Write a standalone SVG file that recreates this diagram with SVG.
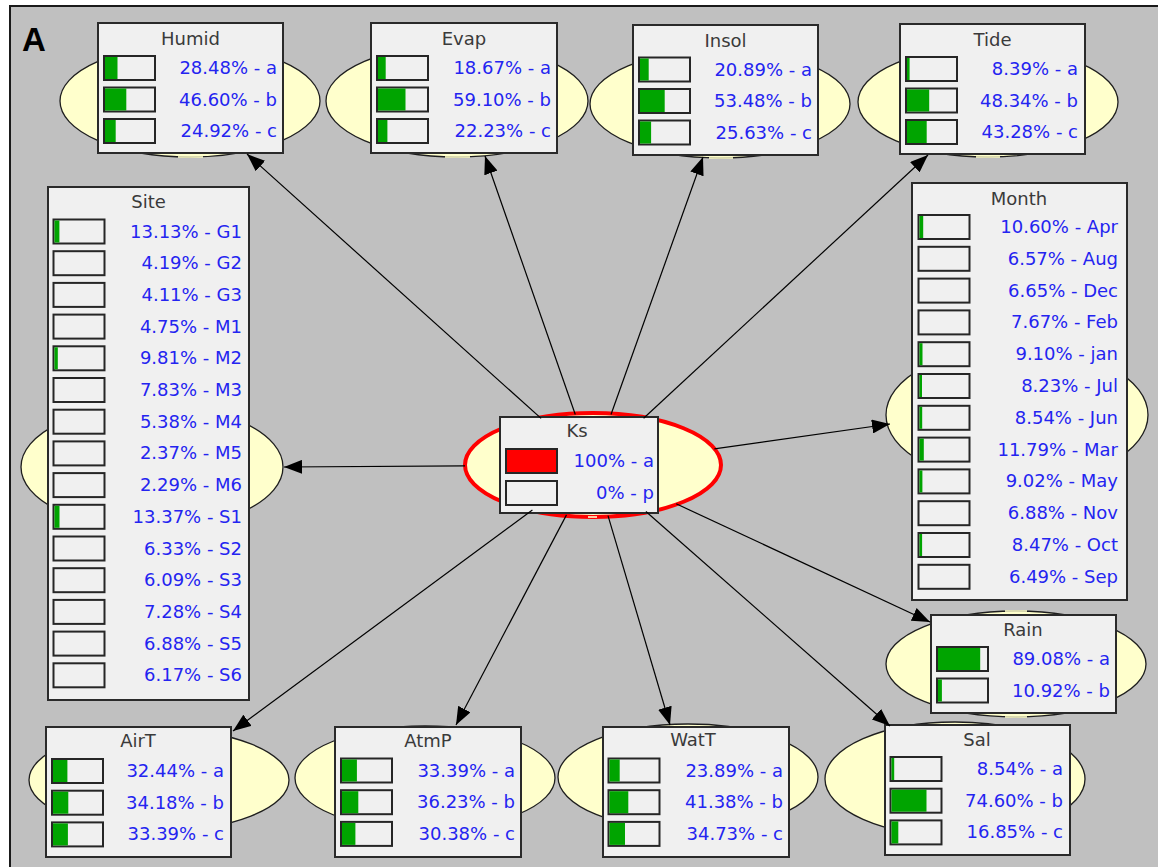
<svg xmlns="http://www.w3.org/2000/svg" width="1158" height="867" viewBox="0 0 1158 867">
<style>
.ell{fill:#ffffcc;stroke:#1e1e1e;stroke-width:1.3}
.ks{fill:#ffffcc;stroke:#ff0000;stroke-width:4}
.box{fill:#f0f0f0;stroke:#2a2a2a;stroke-width:2}
.bar{fill:#f0f0f0;stroke:#262626;stroke-width:2}
.gr{fill:#00a400}
.rd{fill:#ff0000}
.ys{stroke:#ffffcc;stroke-width:1.6}
text{font-family:"DejaVu Sans",Verdana,sans-serif;font-size:18px}
.t{fill:#3a3a3a;text-anchor:middle}
.v{fill:#2424f0;text-anchor:end}
.lnk{stroke:#000;stroke-width:1.2;fill:none;marker-end:url(#arr)}
</style>
<defs>
<marker id="arr" viewBox="0 0 18 14" refX="18" refY="7" markerWidth="18" markerHeight="14" markerUnits="userSpaceOnUse" orient="auto"><path d="M0,0 L18,7 L0,14 z" fill="#000"/></marker>
</defs>
<rect x="0" y="0" width="1158" height="867" fill="#ffffff"/>
<rect x="10" y="6" width="1148" height="861" fill="#c0c0c0"/>
<path d="M10,867 L10,6 L1158,6" fill="none" stroke="#1a1a1a" stroke-width="2"/>
<text x="22" y="51" style="font-family:'Liberation Sans',Arial,sans-serif;font-size:33px;font-weight:bold" fill="#000">A</text>

<g id="node-Humid">
<ellipse class="ell" cx="190" cy="101" rx="130" ry="56"/>
<line class="ys" x1="178" y1="157" x2="203" y2="157"/>
<rect class="box" x="98" y="23" width="185" height="130"/>
<text class="t" x="190.5" y="45">Humid</text>
<rect class="bar" x="104" y="56" width="51" height="24"/><rect class="gr" x="105" y="57" width="12.5" height="22"/>
<rect class="bar" x="104" y="87.5" width="51" height="24"/><rect class="gr" x="105" y="88.5" width="21.3" height="22"/>
<rect class="bar" x="104" y="119" width="51" height="24"/><rect class="gr" x="105" y="120" width="10.7" height="22"/>
<text class="v" x="277" y="74">28.48% - a</text>
<text class="v" x="277" y="105.5">46.60% - b</text>
<text class="v" x="277" y="137">24.92% - c</text>
</g>

<g id="node-Evap">
<ellipse class="ell" cx="457" cy="101" rx="131" ry="56"/>
<line class="ys" x1="445" y1="157" x2="470" y2="157"/>
<rect class="box" x="371" y="23" width="186" height="130"/>
<text class="t" x="464" y="45">Evap</text>
<rect class="bar" x="377" y="56" width="51" height="24"/><rect class="gr" x="378" y="57" width="7.7" height="22"/>
<rect class="bar" x="377" y="87.5" width="51" height="24"/><rect class="gr" x="378" y="88.5" width="27.5" height="22"/>
<rect class="bar" x="377" y="119" width="51" height="24"/><rect class="gr" x="378" y="120" width="9.4" height="22"/>
<text class="v" x="551" y="74">18.67% - a</text>
<text class="v" x="551" y="105.5">59.10% - b</text>
<text class="v" x="551" y="137">22.23% - c</text>
</g>

<g id="node-Insol">
<ellipse class="ell" cx="720" cy="104" rx="130" ry="54"/>
<line class="ys" x1="709" y1="158" x2="733" y2="158"/>
<rect class="box" x="633" y="25" width="185" height="130"/>
<text class="t" x="725.5" y="47">Insol</text>
<rect class="bar" x="639" y="57.5" width="51" height="24"/><rect class="gr" x="640" y="58.5" width="8.7" height="22"/>
<rect class="bar" x="639" y="89" width="51" height="24"/><rect class="gr" x="640" y="90" width="24.7" height="22"/>
<rect class="bar" x="639" y="120.5" width="51" height="24"/><rect class="gr" x="640" y="121.5" width="11.1" height="22"/>
<text class="v" x="812" y="75.5">20.89% - a</text>
<text class="v" x="812" y="107">53.48% - b</text>
<text class="v" x="812" y="138.5">25.63% - c</text>
</g>

<g id="node-Tide">
<ellipse class="ell" cx="988" cy="102" rx="130" ry="55"/>
<line class="ys" x1="976" y1="157" x2="1000" y2="157"/>
<rect class="box" x="900" y="24" width="185" height="130"/>
<text class="t" x="992.5" y="46">Tide</text>
<rect class="bar" x="906" y="57" width="51" height="24"/><rect class="gr" x="907" y="58" width="2.6" height="22"/>
<rect class="bar" x="906" y="88.5" width="51" height="24"/><rect class="gr" x="907" y="89.5" width="22.2" height="22"/>
<rect class="bar" x="906" y="120" width="51" height="24"/><rect class="gr" x="907" y="121" width="19.7" height="22"/>
<text class="v" x="1078" y="75">8.39% - a</text>
<text class="v" x="1078" y="106.5">48.34% - b</text>
<text class="v" x="1078" y="138">43.28% - c</text>
</g>

<g id="node-Site">
<ellipse class="ell" cx="152" cy="467" rx="131" ry="62"/>
<rect class="box" x="48" y="187" width="201" height="513"/>
<text class="t" x="148.5" y="208">Site</text>
<rect class="bar" x="53.5" y="219.5" width="51" height="24"/><rect class="gr" x="54.5" y="220.5" width="4.9" height="22"/>
<rect class="bar" x="53.5" y="251.2" width="51" height="24"/>
<rect class="bar" x="53.5" y="282.9" width="51" height="24"/>
<rect class="bar" x="53.5" y="314.6" width="51" height="24"/>
<rect class="bar" x="53.5" y="346.3" width="51" height="24"/><rect class="gr" x="54.5" y="347.3" width="3.3" height="22"/>
<rect class="bar" x="53.5" y="378" width="51" height="24"/>
<rect class="bar" x="53.5" y="409.7" width="51" height="24"/>
<rect class="bar" x="53.5" y="441.4" width="51" height="24"/>
<rect class="bar" x="53.5" y="473.1" width="51" height="24"/>
<rect class="bar" x="53.5" y="504.8" width="51" height="24"/><rect class="gr" x="54.5" y="505.8" width="5" height="22"/>
<rect class="bar" x="53.5" y="536.5" width="51" height="24"/>
<rect class="bar" x="53.5" y="568.2" width="51" height="24"/>
<rect class="bar" x="53.5" y="599.9" width="51" height="24"/>
<rect class="bar" x="53.5" y="631.6" width="51" height="24"/>
<rect class="bar" x="53.5" y="663.3" width="51" height="24"/>
<text class="v" x="242" y="237.5">13.13% - G1</text>
<text class="v" x="242" y="269.2">4.19% - G2</text>
<text class="v" x="242" y="300.9">4.11% - G3</text>
<text class="v" x="242" y="332.6">4.75% - M1</text>
<text class="v" x="242" y="364.3">9.81% - M2</text>
<text class="v" x="242" y="396">7.83% - M3</text>
<text class="v" x="242" y="427.7">5.38% - M4</text>
<text class="v" x="242" y="459.4">2.37% - M5</text>
<text class="v" x="242" y="491.1">2.29% - M6</text>
<text class="v" x="242" y="522.8">13.37% - S1</text>
<text class="v" x="242" y="554.5">6.33% - S2</text>
<text class="v" x="242" y="586.2">6.09% - S3</text>
<text class="v" x="242" y="617.9">7.28% - S4</text>
<text class="v" x="242" y="649.6">6.88% - S5</text>
<text class="v" x="242" y="681.3">6.17% - S6</text>
</g>

<g id="node-Month">
<ellipse class="ell" cx="1017" cy="415" rx="131" ry="68"/>
<rect class="box" x="912" y="183" width="215" height="417"/>
<text class="t" x="1019" y="205">Month</text>
<rect class="bar" x="918.5" y="215" width="51" height="24"/><rect class="gr" x="919.5" y="216" width="3.7" height="22"/>
<rect class="bar" x="918.5" y="246.8" width="51" height="24"/>
<rect class="bar" x="918.5" y="278.6" width="51" height="24"/>
<rect class="bar" x="918.5" y="310.4" width="51" height="24"/>
<rect class="bar" x="918.5" y="342.2" width="51" height="24"/><rect class="gr" x="919.5" y="343.2" width="3" height="22"/>
<rect class="bar" x="918.5" y="374" width="51" height="24"/><rect class="gr" x="919.5" y="375" width="2.5" height="22"/>
<rect class="bar" x="918.5" y="405.8" width="51" height="24"/><rect class="gr" x="919.5" y="406.8" width="2.7" height="22"/>
<rect class="bar" x="918.5" y="437.6" width="51" height="24"/><rect class="gr" x="919.5" y="438.6" width="4.3" height="22"/>
<rect class="bar" x="918.5" y="469.4" width="51" height="24"/><rect class="gr" x="919.5" y="470.4" width="2.9" height="22"/>
<rect class="bar" x="918.5" y="501.2" width="51" height="24"/>
<rect class="bar" x="918.5" y="533" width="51" height="24"/><rect class="gr" x="919.5" y="534" width="2.6" height="22"/>
<rect class="bar" x="918.5" y="564.8" width="51" height="24"/>
<text class="v" x="1118" y="233">10.60% - Apr</text>
<text class="v" x="1118" y="264.8">6.57% - Aug</text>
<text class="v" x="1118" y="296.6">6.65% - Dec</text>
<text class="v" x="1118" y="328.4">7.67% - Feb</text>
<text class="v" x="1118" y="360.2">9.10% - jan</text>
<text class="v" x="1118" y="392">8.23% - Jul</text>
<text class="v" x="1118" y="423.8">8.54% - Jun</text>
<text class="v" x="1118" y="455.6">11.79% - Mar</text>
<text class="v" x="1118" y="487.4">9.02% - May</text>
<text class="v" x="1118" y="519.2">6.88% - Nov</text>
<text class="v" x="1118" y="551">8.47% - Oct</text>
<text class="v" x="1118" y="582.8">6.49% - Sep</text>
</g>

<g id="node-Ks">
<ellipse class="ks" cx="593" cy="465" rx="128" ry="52"/>
<line class="ys" x1="588" y1="517" x2="597" y2="517"/>
<rect class="box" x="500" y="417" width="158" height="96"/>
<text class="t" x="577" y="437">Ks</text>
<rect class="bar" x="506" y="449" width="51" height="24"/><rect class="rd" x="507" y="450" width="49" height="22"/>
<rect class="bar" x="506" y="481" width="51" height="24"/>
<text class="v" x="654" y="467">100% - a</text>
<text class="v" x="654" y="499">0% - p</text>
</g>

<g id="node-Rain">
<ellipse class="ell" cx="1016" cy="664" rx="130" ry="53"/>
<line class="ys" x1="1005" y1="611" x2="1027" y2="611"/>
<line class="ys" x1="1005" y1="717" x2="1027" y2="717"/>
<rect class="box" x="931" y="615" width="185" height="98"/>
<text class="t" x="1023" y="636">Rain</text>
<rect class="bar" x="937" y="647" width="51" height="24"/><rect class="gr" x="938" y="648" width="42.2" height="22"/>
<rect class="bar" x="937" y="678.5" width="51" height="24"/><rect class="gr" x="938" y="679.5" width="3.9" height="22"/>
<text class="v" x="1110" y="665">89.08% - a</text>
<text class="v" x="1110" y="696.5">10.92% - b</text>
</g>

<g id="node-Sal">
<ellipse class="ell" cx="955" cy="779" rx="130" ry="57"/>
<rect class="box" x="885" y="725" width="185" height="130"/>
<text class="t" x="977" y="746">Sal</text>
<rect class="bar" x="890.5" y="757" width="51" height="24"/><rect class="gr" x="891.5" y="758" width="2.7" height="22"/>
<rect class="bar" x="890.5" y="788.7" width="51" height="24"/><rect class="gr" x="891.5" y="789.7" width="35" height="22"/>
<rect class="bar" x="890.5" y="820.4" width="51" height="24"/><rect class="gr" x="891.5" y="821.4" width="6.8" height="22"/>
<text class="v" x="1063" y="775">8.54% - a</text>
<text class="v" x="1063" y="806.7">74.60% - b</text>
<text class="v" x="1063" y="838.4">16.85% - c</text>
</g>

<g id="node-AirT">
<ellipse class="ell" cx="159" cy="780" rx="130" ry="51"/>
<rect class="box" x="46" y="727" width="185" height="130"/>
<text class="t" x="138" y="747">AirT</text>
<rect class="bar" x="52" y="759" width="51" height="24"/><rect class="gr" x="53" y="760" width="14.4" height="22"/>
<rect class="bar" x="52" y="790.7" width="51" height="24"/><rect class="gr" x="53" y="791.7" width="15.3" height="22"/>
<rect class="bar" x="52" y="822.4" width="51" height="24"/><rect class="gr" x="53" y="823.4" width="14.9" height="22"/>
<text class="v" x="224" y="777">32.44% - a</text>
<text class="v" x="224" y="808.7">34.18% - b</text>
<text class="v" x="224" y="840.4">33.39% - c</text>
</g>

<g id="node-AtmP">
<ellipse class="ell" cx="425" cy="778" rx="130" ry="52"/>
<rect class="box" x="335" y="727" width="186" height="130"/>
<text class="t" x="428" y="747">AtmP</text>
<rect class="bar" x="341" y="758.5" width="51" height="24"/><rect class="gr" x="342" y="759.5" width="14.9" height="22"/>
<rect class="bar" x="341" y="790.2" width="51" height="24"/><rect class="gr" x="342" y="791.2" width="16.3" height="22"/>
<rect class="bar" x="341" y="821.9" width="51" height="24"/><rect class="gr" x="342" y="822.9" width="13.4" height="22"/>
<text class="v" x="515" y="776.5">33.39% - a</text>
<text class="v" x="515" y="808.2">36.23% - b</text>
<text class="v" x="515" y="839.9">30.38% - c</text>
</g>

<g id="node-WatT">
<ellipse class="ell" cx="688" cy="777" rx="130" ry="53"/>
<rect class="box" x="603" y="727" width="186" height="130"/>
<text class="t" x="693" y="746">WatT</text>
<rect class="bar" x="608.5" y="758.5" width="51" height="24"/><rect class="gr" x="609.5" y="759.5" width="10.2" height="22"/>
<rect class="bar" x="608.5" y="790.2" width="51" height="24"/><rect class="gr" x="609.5" y="791.2" width="18.8" height="22"/>
<rect class="bar" x="608.5" y="821.9" width="51" height="24"/><rect class="gr" x="609.5" y="822.9" width="15.5" height="22"/>
<text class="v" x="783" y="776.5">23.89% - a</text>
<text class="v" x="783" y="808.2">41.38% - b</text>
<text class="v" x="783" y="839.9">34.73% - c</text>
</g>

<g id="connectors">
<line class="lnk" x1="541.1" y1="418.4" x2="247" y2="154"/>
<line class="lnk" x1="575.3" y1="414.5" x2="485" y2="156"/>
<line class="lnk" x1="611" y1="414.5" x2="703" y2="157"/>
<line class="lnk" x1="643.6" y1="418.2" x2="928" y2="155"/>
<line class="lnk" x1="714.4" y1="448.8" x2="890" y2="424"/>
<line class="lnk" x1="676.2" y1="503.8" x2="930" y2="622"/>
<line class="lnk" x1="645.9" y1="511.5" x2="890" y2="726"/>
<line class="lnk" x1="608" y1="515.6" x2="670" y2="725"/>
<line class="lnk" x1="566.5" y1="514.9" x2="456" y2="725"/>
<line class="lnk" x1="532.4" y1="509.9" x2="233" y2="731"/>
<line class="lnk" x1="465" y1="465.8" x2="284" y2="467"/>
</g>
</svg>
